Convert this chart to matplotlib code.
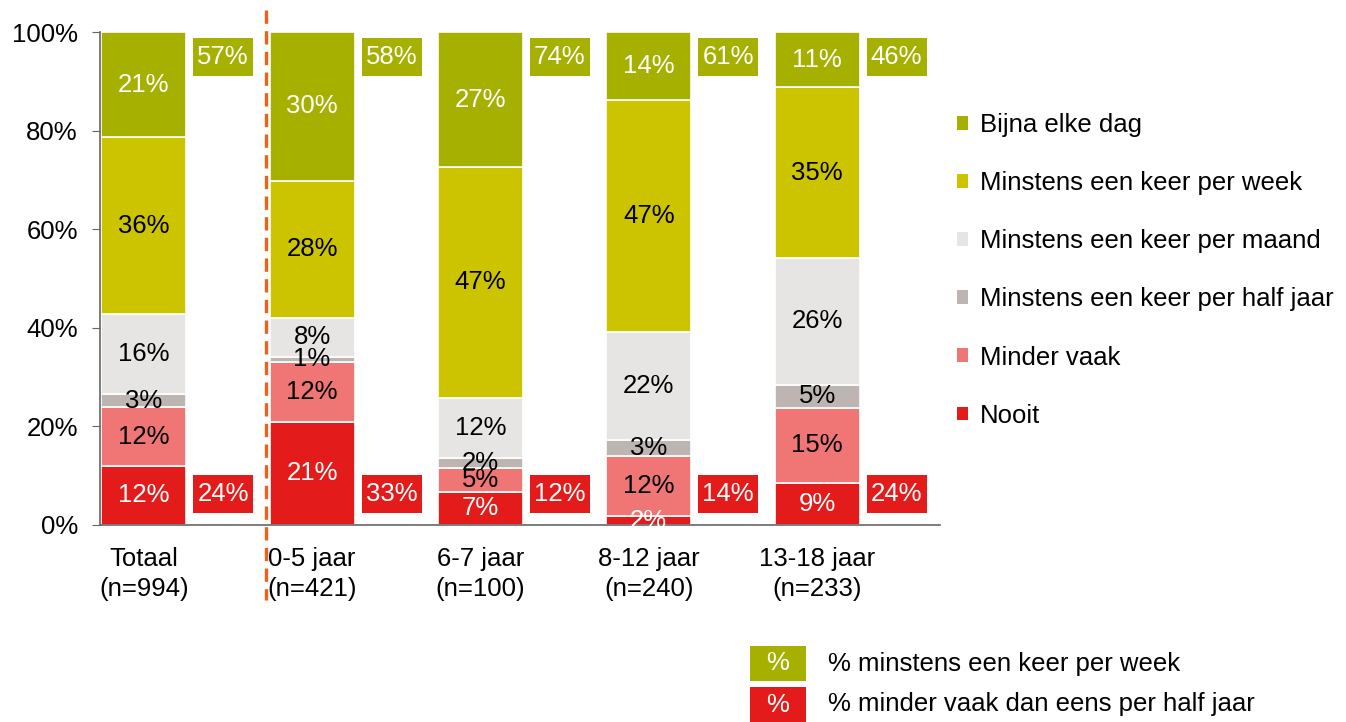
import matplotlib.pyplot as plt
from matplotlib.patches import Patch, Rectangle

plt.rcParams['font.family'] = ['Liberation Sans', 'DejaVu Sans']

groups = ["Totaal\n(n=994)", "0-5 jaar\n(n=421)", "6-7 jaar\n(n=100)",
          "8-12 jaar\n(n=240)", "13-18 jaar\n(n=233)"]

# stacked from bottom to top
series = ["Nooit", "Minder vaak", "Minstens een keer per half jaar",
          "Minstens een keer per maand", "Minstens een keer per week", "Bijna elke dag"]
nooit = [12.0, 20.9, 6.7, 1.8, 8.6]
minder_vaak = [11.9, 12.2, 4.9, 12.2, 15.2]
half_jaar = [2.6, 1.0, 2.0, 3.2, 4.6]
maand = [16.3, 7.9, 12.2, 21.9, 25.8]
week = [35.9, 27.8, 46.8, 47.1, 34.6]
dag = [21.3, 30.2, 27.4, 13.8, 11.2]

week_plus = [57, 58, 74, 61, 46]
less_half_year = [24, 33, 12, 14, 24]

colors = ["#E31B1B", "#F07676", "#BDB5B1", "#E6E5E3", "#CDC400", "#A5B000"]
text_colors = ["white", "black", "black", "black", "black", "white"]

FS = 18.5

fig = plt.figure(figsize=(13.46, 7.22), dpi=100)
ax = fig.add_axes([100 / 1346, 197 / 722, 840 / 1346, 493 / 722])

x = list(range(len(groups)))
bw = 0.505
bottom = [0.0] * len(groups)
for vals, c, tc in zip([nooit, minder_vaak, half_jaar, maand, week, dag], colors, text_colors):
    ax.bar(x, vals, bw, bottom=bottom, color=c, edgecolor="white", linewidth=1.2)
    for i, v in enumerate(vals):
        ax.text(i, bottom[i] + v / 2, f"{round(v)}%", ha="center", va="center",
                fontsize=FS, color=tc)
    bottom = [b + v for b, v in zip(bottom, vals)]

# summary boxes
off = 0.472
bx = 0.356
for i in x:
    ax.bar(i + off, 7.7, bx, bottom=91.1, color=colors[5])
    ax.text(i + off, 91.1 + 3.85, f"{week_plus[i]}%", ha="center", va="center",
            fontsize=FS, color="white")
    ax.bar(i + off, 7.6, bx, bottom=2.5, color=colors[0])
    ax.text(i + off, 2.5 + 3.8, f"{less_half_year[i]}%", ha="center", va="center",
            fontsize=FS, color="white")

# dashed separator
ax.plot([0.727, 0.727], [104.5, -15.2], color="#F0601A", linestyle=(0, (4, 2.2)),
        linewidth=2.4, clip_on=False, zorder=5)

ax.set_xlim(-0.26, 4.73)
ax.set_ylim(0, 100)
ax.set_yticks([0, 20, 40, 60, 80, 100])
ax.set_yticklabels([f"{t}%" for t in [0, 20, 40, 60, 80, 100]], fontsize=FS)
ax.set_xticks(x)
ax.set_xticklabels(groups, fontsize=FS)
for t in ax.get_xticklabels():
    t.set_linespacing(1.3)
ax.tick_params(axis="x", length=0, pad=16)
ax.tick_params(axis="y", length=6, color="#666666", pad=10)
for s in ["top", "right"]:
    ax.spines[s].set_visible(False)
for s in ["left", "bottom"]:
    ax.spines[s].set_color("#666666")
    ax.spines[s].set_linewidth(1.2)

handles = [Patch(facecolor=c) for c in colors[::-1]]
fig.legend(handles, series[::-1], loc="upper left", bbox_to_anchor=(944 / 1346, 1 - 100 / 722),
           frameon=False, fontsize=FS, handlelength=0.45, handleheight=0.45,
           handletextpad=0.45, labelspacing=1.33, borderpad=0)

# bottom legend boxes
for yb, c, lab in [(646, colors[5], "% minstens een keer per week"),
                   (687, colors[0], "% minder vaak dan eens per half jaar")]:
    fig.patches.append(Rectangle((750 / 1346, 1 - (yb + 35) / 722), 56 / 1346, 35 / 722,
                                 transform=fig.transFigure, facecolor=c, edgecolor="none"))
    fig.text(778 / 1346, 1 - (yb + 17.5) / 722, "%", ha="center", va="center",
             fontsize=FS, color="white")
    fig.text(828 / 1346, 1 - (yb + 17.5) / 722, lab, ha="left", va="center",
             fontsize=FS, color="black")

fig.savefig("out.png", dpi=100)
